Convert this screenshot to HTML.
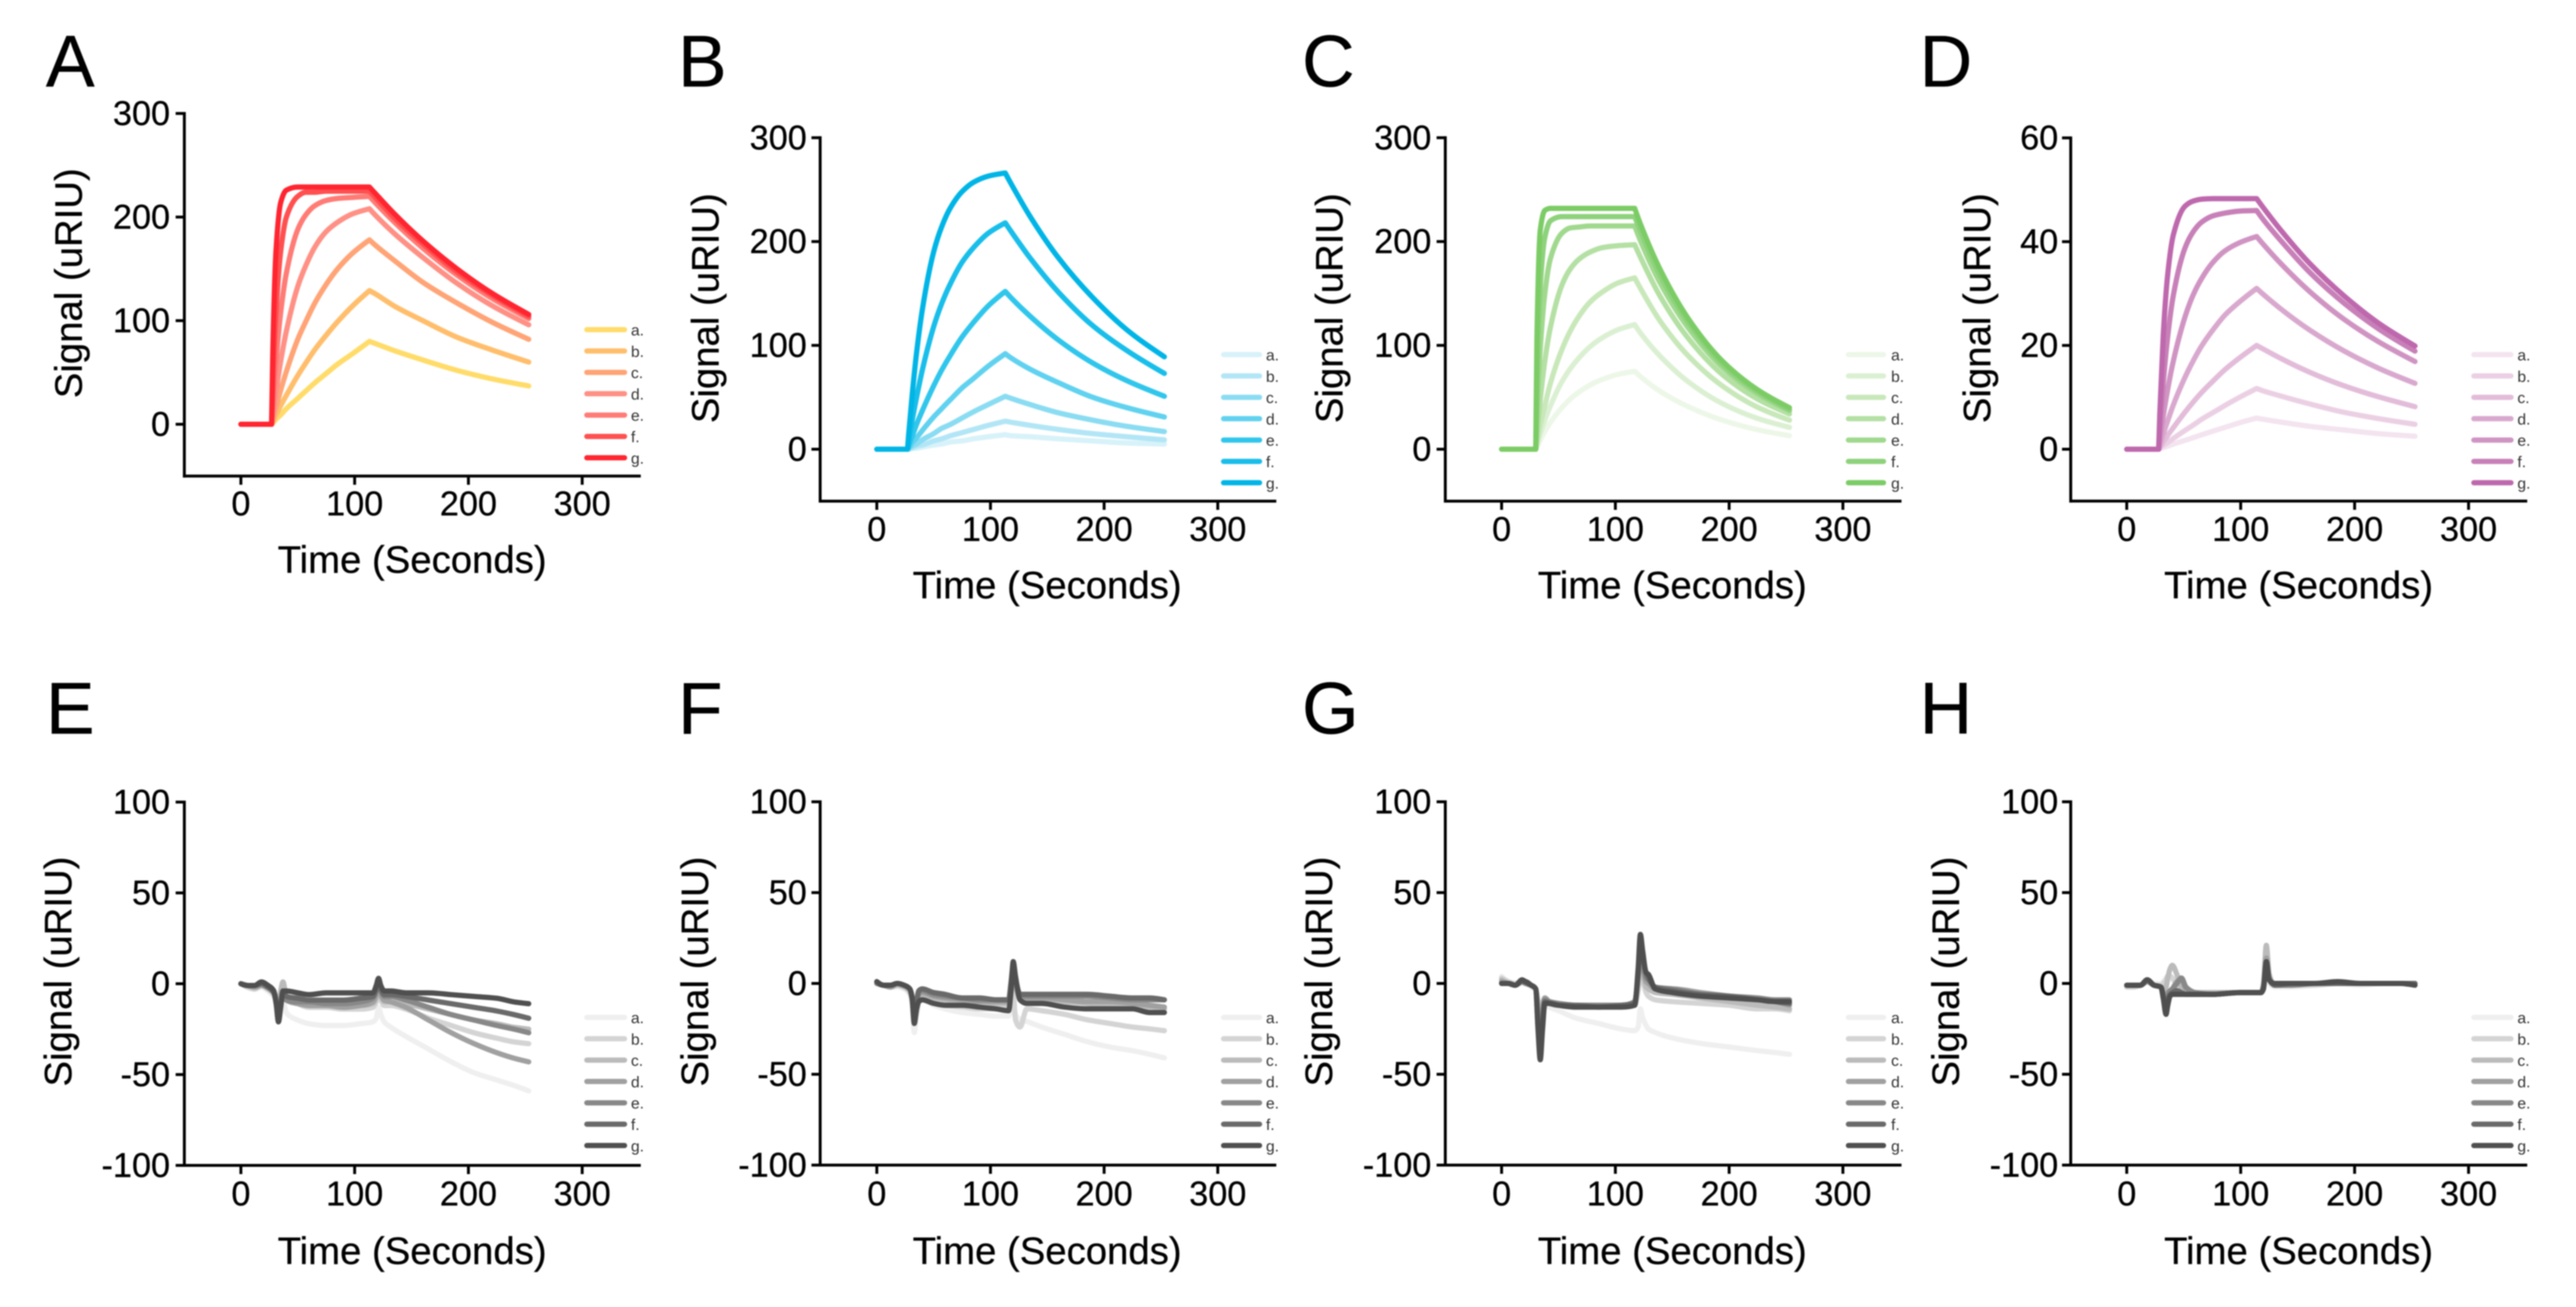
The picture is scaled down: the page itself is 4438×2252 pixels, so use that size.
<!DOCTYPE html>
<html lang="en">
<head>
<meta charset="utf-8">
<title>Signal vs time binding curves, panels A to H</title>
<style>
html,body{margin:0;padding:0;background:#fff;width:4438px;height:2252px;overflow:hidden}
svg{display:block;filter:blur(1.1px)}
text{font-family:"Liberation Sans",Arial,sans-serif;fill:#000;stroke:#000;stroke-width:0.5px}
</style>
</head>
<body>
<svg id="figure" xmlns="http://www.w3.org/2000/svg" width="4438" height="2252" viewBox="0 0 4438 2252"></svg>
<script>
// ---------- category / tick data ----------
const seriesLabels = ["a.","b.","c.","d.","e.","f.","g."];
const xTickValues = [0,100,200,300];
const yTicksSignal = [0,100,200,300];
const yTicksSmall = [0,20,40,60];
const yTicksControl = [-100,-50,0,50,100];

// ---------- panel A ----------
const timesA = [0,27,28,31,35,40,50,57,65,75,85,98,113,118,135,160,190,220,253];
const valuesAa = [0,0,1,5,9,15,25,32,40,49,58,68,80,78,71,62,52,44,37];
const valuesAb = [0,0,2,9,18,28,47,59,72,86,99,114,129,126,114,100,84,72,60];
const valuesAc = [0,0,4,17,33,51,82,99,117,135,150,165,178,173,158,137,117,99,82];
const valuesAd = [0,0,9,33,61,90,133,153,171,186,195,203,208,202,184,161,136,115,96];
const valuesAe = [0,0,18,63,108,146,188,202,211,216,218,219,220,214,195,170,144,122,102];
const valuesAf = [0,0,35,111,167,200,220,224,224,225,225,225,225,219,199,174,147,125,104];
const valuesAg = [0,0,66,170,214,226,229,229,229,229,229,229,229,223,203,177,150,127,106];

// ---------- panel B ----------
const timesB = [0,27,28,31,35,40,50,57,65,75,85,98,113,118,135,160,190,220,253];
const valuesBa = [0,0,0,1,1,2,4,5,7,8,10,12,14,13,12,10,8,6,5];
const valuesBb = [0,0,0,1,3,4,8,10,13,16,19,23,27,26,23,19,15,12,9];
const valuesBc = [0,0,1,3,5,9,15,20,24,30,36,43,51,49,43,35,28,22,17];
const valuesBd = [0,0,1,6,11,18,31,39,48,59,68,80,92,88,77,64,50,40,31];
const valuesBe = [0,0,3,12,24,37,61,76,91,108,122,138,152,146,128,105,83,66,51];
const valuesBf = [0,0,7,27,50,76,118,140,160,180,194,208,218,210,184,151,119,95,73];
const valuesBg = [0,0,14,51,93,134,190,214,233,248,257,263,266,256,224,184,146,115,89];

// ---------- panel C ----------
const timesC = [0,30,31,34,38,43,53,60,68,78,88,102,117,122,139,164,194,224,253];
const valuesCa = [0,0,2,9,17,26,40,48,55,62,67,72,75,70,56,41,28,19,13];
const valuesCb = [0,0,4,15,28,42,65,77,88,99,107,115,120,112,90,65,44,30,21];
const valuesCc = [0,0,6,23,42,64,96,113,128,142,151,160,165,155,124,90,61,41,28];
const valuesCd = [0,0,13,48,85,118,158,173,183,190,194,196,197,185,148,107,72,49,34];
const valuesCe = [0,0,30,97,150,184,208,213,214,215,215,215,215,201,161,117,79,54,37];
const valuesCf = [0,0,58,157,204,220,224,224,224,224,224,224,224,210,168,122,82,56,38];
const valuesCg = [0,0,105,211,230,232,232,232,232,232,232,232,232,217,174,126,85,58,40];

// ---------- panel D ----------
const timesD = [0,28,29,32,36,41,51,58,66,76,86,99,114,119,136,161,191,221,253];
const valuesDa = [0,0,0.1,0.3,0.6,1,1.7,2.2,2.8,3.5,4.2,5.1,6,5.8,5.2,4.4,3.7,3,2.5];
const valuesDb = [0,0,0.2,0.7,1.3,2.1,3.6,4.6,5.8,7.1,8.4,10,11.7,11.3,10.2,8.7,7.1,5.9,4.8];
const valuesDc = [0,0,0.3,1.4,2.7,4.2,7.1,9,11,13.2,15.3,17.6,20,19.4,17.4,14.8,12.2,10.1,8.2];
const valuesDd = [0,0,0.7,2.9,5.5,8.6,13.8,16.9,20,23.1,25.8,28.4,31,30,26.9,22.9,18.9,15.6,12.7];
const valuesDe = [0,0,1.6,6.3,11.6,17.1,25.4,29.6,33,36.1,38.2,39.8,41,39.7,35.6,30.3,25,20.7,16.9];
const valuesDf = [0,0,3.5,12.6,21.8,29.8,38.7,41.8,43.8,45,45.5,45.9,46,44.5,40,34,28.1,23.2,18.9];
const valuesDg = [0,0,6.7,21.8,33.8,41.4,46.8,47.8,48.2,48.3,48.3,48.3,48.3,46.8,42,35.7,29.5,24.3,19.9];

// ---------- panel E ----------
const timesE = [0,6,12,18,24,29,31,33,35,37,40,50,60,75,90,105,116,119,121,123,126,132,145,165,185,205,225,240,253];
const valuesEa = [0,-2,-3,-2,-4,-7,-8,-14,-12,-10,-16,-20,-22,-23,-23,-22,-21,-19,-13,-17,-21,-24,-29,-36,-43,-49,-53,-56,-59];
const valuesEb = [0,-2,-3,-1,-3,-6,-8,-12,-6,-2,-8,-11,-13,-13,-14,-14,-13,-10,-6,-9,-12,-12,-14,-19,-23,-27,-30,-32,-33];
const valuesEc = [0,-1,-2,-1,-3,-5,-7,-10,-4,1,-7,-10,-11,-12,-12,-12,-11,-8,-4,-7,-10,-10,-11,-14,-17,-20,-22,-24,-25];
const valuesEd = [0,-1,-2,-1,-2,-5,-8,-13,-8,-4,-9,-11,-12,-12,-13,-12,-10,-6,-2,-6,-9,-10,-13,-20,-27,-33,-38,-41,-43];
const valuesEe = [0,-1,-1,0,-2,-5,-9,-16,-10,-6,-9,-10,-10,-11,-11,-10,-8,-4,-1,-4,-7,-7,-9,-13,-17,-20,-23,-25,-27];
const valuesEf = [0,-1,-1,0,-2,-5,-11,-19,-12,-5,-7,-8,-9,-9,-9,-8,-7,-3,1,-3,-6,-6,-7,-9,-11,-13,-15,-17,-19];
const valuesEg = [0,-1,-1,1,-1,-4,-11,-21,-13,-4,-4,-5,-6,-5,-5,-5,-5,-1,3,-1,-4,-4,-5,-5,-6,-7,-8,-10,-11];

// ---------- panel F ----------
const timesF = [0,6,12,18,24,29,31,33,35,37,40,50,60,75,90,105,116,118,120,122,126,132,145,165,185,205,225,240,253];
const valuesFa = [0,-1,-2,-2,-3,-6,-12,-27,-18,-10,-9,-12,-14,-16,-17,-18,-18,-14,-12,-17,-20,-21,-24,-28,-32,-35,-37,-39,-41];
const valuesFb = [0,-1,-2,-1,-2,-5,-9,-20,-16,-10,-8,-10,-12,-13,-14,-14,-13,-8,-5,-20,-24,-14,-15,-17,-20,-22,-24,-25,-26];
const valuesFc = [0,-1,-2,-1,-2,-4,-8,-17,-12,-8,-7,-8,-9,-10,-10,-11,-11,-4,4,-2,-8,-9,-9,-10,-11,-12,-13,-13,-14];
const valuesFd = [0,-1,-2,0,-1,-3,-7,-17,-11,-6,-5,-7,-8,-9,-10,-10,-10,-3,6,0,-7,-8,-8,-9,-10,-10,-11,-12,-13];
const valuesFe = [0,-1,-1,0,-1,-3,-7,-18,-10,-5,-4,-6,-7,-8,-9,-9,-9,-2,8,2,-6,-7,-7,-7,-7,-8,-9,-9,-9];
const valuesFf = [1,-1,-1,0,-1,-3,-8,-20,-10,-4,-3,-5,-6,-8,-8,-9,-9,0,10,3,-6,-6,-6,-6,-6,-7,-8,-8,-9];
const valuesFg = [1,-1,-1,0,-1,-3,-8,-22,-14,-10,-9,-11,-12,-12,-13,-14,-15,-5,12,4,-9,-11,-11,-13,-14,-14,-14,-16,-16];

// ---------- panel G ----------
const timesG = [0,6,12,18,21,26,30,32,34,36,38,42,50,65,85,105,117,120,122,124,127,129,135,150,175,200,225,240,253];
const valuesGa = [4,1,0,0,0,-2,-4,-10,-20,-12,-10,-13,-15,-19,-22,-25,-26,-24,-14,-19,-23,-25,-27,-30,-33,-35,-37,-38,-39];
const valuesGb = [3,1,0,1,0,-1,-3,-10,-18,-10,-9,-11,-12,-13,-13,-13,-12,-4,6,2,-5,-7,-9,-10,-11,-12,-14,-14,-15];
const valuesGc = [2,0,-1,1,0,-1,-3,-12,-22,-12,-8,-10,-11,-12,-13,-12,-11,0,10,6,-2,-3,-5,-6,-8,-10,-12,-13,-14];
const valuesGd = [1,0,-1,1,0,-1,-3,-16,-30,-15,-8,-10,-11,-12,-12,-12,-10,3,16,10,1,0,-3,-3,-5,-7,-9,-10,-12];
const valuesGe = [0,0,-1,1,0,-1,-3,-20,-36,-18,-9,-10,-11,-12,-12,-12,-10,4,20,12,3,2,-2,-3,-6,-7,-8,-9,-9];
const valuesGf = [0,0,-1,1,1,-1,-3,-24,-40,-22,-10,-11,-12,-12,-13,-12,-11,6,24,15,6,3,-2,-4,-6,-7,-9,-10,-11];
const valuesGg = [0,0,-1,2,1,-1,-3,-25,-42,-25,-11,-11,-12,-13,-13,-13,-12,8,27,18,6,5,-3,-5,-7,-8,-9,-10,-10];

// ---------- panel H ----------
const timesH = [0,6,12,18,24,30,32,34.5,36,38,40,44,48,52,60,75,100,118,120,122.5,125,130,145,165,185,205,225,240,253];
const valuesHa = [-2,-2,-1,1,0,0,1,3,4,3,2,0,-3,-5,-5,-5,-5,-5,-2,4,0,-2,-2,-1,0,-1,0,0,0];
const valuesHb = [-2,-2,-1,1,-1,-1,0,2,4,4,3,0,-3,-5,-5,-5,-5,-5,-1,10,2,-1,-1,-1,0,0,0,0,0];
const valuesHc = [-1,-1,-1,1,-1,-2,-3,-2,3,8,10,5,-2,-5,-5,-5,-5,-5,0,21,5,-1,-1,0,0,0,0,0,0];
const valuesHd = [-1,-1,-1,1,-1,-2,-5,-9,-5,-4,-3,1,2,-3,-5,-6,-5,-5,-2,14,3,-1,-1,0,0,0,0,0,0];
const valuesHe = [-1,-1,-1,1,-1,-2,-6,-12,-7,-4,-3,0,3,-2,-5,-6,-5,-5,-2,12,3,-1,-1,0,0,0,0,0,0];
const valuesHf = [-1,-1,-1,2,-1,-2,-7,-16,-9,-6,-5,-4,-5,-6,-6,-6,-5,-5,-2,10,2,-1,0,0,0,0,0,0,0];
const valuesHg = [-1,-1,-1,2,-1,-2,-8,-17,-12,-7,-6,-6,-6,-6,-6,-6,-5,-5,-3,12,2,0,0,0,1,0,0,0,-1];

// ---------- palettes ----------
const warmColors = ["#FFDC6A","#FFBE6C","#FFA476","#FF9085","#FF7B76","#FF5050","#FF2530"];
const cyanColors = ["#D8F2FA","#B2E6F6","#8ADCF2","#60D2F0","#30C6EC","#18BEEA","#00B5E6"];
const greenColors = ["#EDF7E8","#DBF0D2","#C8E8BA","#B4E0A4","#A0D98E","#8ED27C","#7CCC66"];
const purpleColors = ["#F3E4EF","#EBD0E4","#E2BCD9","#D9A8CE","#D094C3","#C880B8","#BE68AD"];
const grayColors = ["#EFEFEF","#D4D4D4","#BBBBBB","#A0A0A0","#888888","#6A6A6A","#4F4F4F"];

// ---------- layout ----------
const columnLayouts = [
  {axisX:317.6, x0:415,    xScale:1.96,  yTickRight:293,  xLabelX:710,  letterX:79,   legendX1:1007,   legendX2:1080, legendTextX:1087},
  {axisX:1413,  x0:1510.6, xScale:1.958, yTickRight:1390, xLabelX:1804, letterX:1168, legendX1:2104,   legendX2:2174, legendTextX:2181},
  {axisX:2490,  x0:2587,   xScale:1.96,  yTickRight:2466, xLabelX:2881, letterX:2243, legendX1:3180.5, legendX2:3249, legendTextX:3258},
  {axisX:3567.5,x0:3664,   xScale:1.963, yTickRight:3546, xLabelX:3960, letterX:3307, legendX1:4258,   legendX2:4330, legendTextX:4337}
];

const panels = [
  {letter:"A",col:0,times:timesA,rows:[valuesAa,valuesAb,valuesAc,valuesAd,valuesAe,valuesAf,valuesAg],colors:warmColors,yTicks:yTicksSignal,yMin:-50,yZero:731,yScale:1.785,letterY:149,tickBase:888,xLabelY:987,yLabelX:141,yLabelY:488,legendY:568,corners:[1,12]},
  {letter:"B",col:1,times:timesB,rows:[valuesBa,valuesBb,valuesBc,valuesBd,valuesBe,valuesBf,valuesBg],colors:cyanColors,yTicks:yTicksSignal,yMin:-50,yZero:774,yScale:1.789,letterY:149,tickBase:932,xLabelY:1031,yLabelX:1238,yLabelY:531,legendY:611,corners:[1,12]},
  {letter:"C",col:2,times:timesC,rows:[valuesCa,valuesCb,valuesCc,valuesCd,valuesCe,valuesCf,valuesCg],colors:greenColors,yTicks:yTicksSignal,yMin:-50,yZero:774,yScale:1.789,letterY:149,tickBase:932,xLabelY:1031,yLabelX:2313,yLabelY:531,legendY:611,corners:[1,12]},
  {letter:"D",col:3,times:timesD,rows:[valuesDa,valuesDb,valuesDc,valuesDd,valuesDe,valuesDf,valuesDg],colors:purpleColors,yTicks:yTicksSmall,yMin:-10,yZero:774,yScale:8.94,letterY:149,tickBase:932,xLabelY:1031,yLabelX:3429,yLabelY:531,legendY:611,corners:[1,12]},
  {letter:"E",col:0,times:timesE,rows:[valuesEa,valuesEb,valuesEc,valuesEd,valuesEe,valuesEf,valuesEg],colors:grayColors,yTicks:yTicksControl,yMin:-100,yZero:1695,yScale:3.13,letterY:1264,tickBase:2077,xLabelY:2178,yLabelX:123,yLabelY:1674,legendY:1753,corners:[]},
  {letter:"F",col:1,times:timesF,rows:[valuesFa,valuesFb,valuesFc,valuesFd,valuesFe,valuesFf,valuesFg],colors:grayColors,yTicks:yTicksControl,yMin:-100,yZero:1694.5,yScale:3.13,letterY:1264,tickBase:2077,xLabelY:2178,yLabelX:1220,yLabelY:1674,legendY:1753,corners:[]},
  {letter:"G",col:2,times:timesG,rows:[valuesGa,valuesGb,valuesGc,valuesGd,valuesGe,valuesGf,valuesGg],colors:grayColors,yTicks:yTicksControl,yMin:-100,yZero:1694.5,yScale:3.13,letterY:1264,tickBase:2077,xLabelY:2178,yLabelX:2295,yLabelY:1674,legendY:1753,corners:[]},
  {letter:"H",col:3,times:timesH,rows:[valuesHa,valuesHb,valuesHc,valuesHd,valuesHe,valuesHf,valuesHg],colors:grayColors,yTicks:yTicksControl,yMin:-100,yZero:1694.5,yScale:3.13,letterY:1264,tickBase:2077,xLabelY:2178,yLabelX:3375,yLabelY:1674,legendY:1753,corners:[]}
];

const NS = "http://www.w3.org/2000/svg";
const root = document.getElementById("figure");

function make(tag, attrs, parent){
  const el = document.createElementNS(NS, tag);
  for (const k in attrs) el.setAttribute(k, attrs[k]);
  parent.appendChild(el);
  return el;
}

// Monotone cubic through knots; one-sided tangents at the piece ends keep kinetic corners sharp.
function piecePath(xs, ys){
  const n = xs.length;
  if (n < 3) return "L" + xs[n-1].toFixed(1) + " " + ys[n-1].toFixed(1);
  const d = [], m = new Array(n);
  for (let i = 0; i < n-1; i++) d.push((ys[i+1]-ys[i])/(xs[i+1]-xs[i]));
  for (let i = 1; i < n-1; i++) {
    if (d[i-1]*d[i] <= 0) m[i] = 0;
    else {
      const a = xs[i]-xs[i-1], b = xs[i+1]-xs[i];
      m[i] = 3*(a+b)/((2*b+a)/d[i-1] + (2*a+b)/d[i]);
    }
  }
  m[0] = (3*d[0]-m[1])/2;
  if (m[0]*d[0] < 0) m[0] = 0;
  m[n-1] = (3*d[n-2]-m[n-2])/2;
  if (m[n-1]*d[n-2] < 0) m[n-1] = 0;
  let s = "";
  for (let i = 0; i < n-1; i++) {
    const h = (xs[i+1]-xs[i])/3;
    s += "C" + (xs[i]+h).toFixed(1) + " " + (ys[i]+m[i]*h).toFixed(1) + " " +
         (xs[i+1]-h).toFixed(1) + " " + (ys[i+1]-m[i+1]*h).toFixed(1) + " " +
         xs[i+1].toFixed(1) + " " + ys[i+1].toFixed(1);
  }
  return s;
}

function curvePath(times, values, corners, xFn, yFn){
  const xs = times.map(xFn), ys = values.map(yFn);
  const cuts = [0].concat(corners, [xs.length-1]);
  let path = "M" + xs[0].toFixed(1) + " " + ys[0].toFixed(1);
  for (let i = 0; i < cuts.length-1; i++) {
    path += piecePath(xs.slice(cuts[i], cuts[i+1]+1), ys.slice(cuts[i], cuts[i+1]+1));
  }
  return path;
}

panels.forEach(function(p){
  const c = columnLayouts[p.col];
  const key = p.letter.toLowerCase();
  const xOf = function(t){ return c.x0 + c.xScale*t; };
  const yOf = function(v){ return p.yZero - p.yScale*v; };

  const group = make("g", {}, root);
  
  

  const letter = make("text", {x:c.letterX, y:p.letterY, "font-size":126}, group);
  letter.textContent = p.letter;
  
  

  const yTop = yOf(p.yTicks[p.yTicks.length-1]);
  const yBottom = yOf(p.yMin);

  const yAxis = make("line", {x1:c.axisX, x2:c.axisX, y1:yTop-2.5, y2:yBottom+2.5, stroke:"#000", "stroke-width":5}, group);
  
  

  const xAxis = make("line", {x1:c.axisX-2.5, x2:xOf(351.5), y1:yBottom, y2:yBottom, stroke:"#000", "stroke-width":5}, group);
  
  

  p.yTicks.forEach(function(v){
    const mark = make("line", {x1:c.axisX-15, x2:c.axisX, y1:yOf(v), y2:yOf(v), stroke:"#000", "stroke-width":5}, group);
    
    
    const label = make("text", {x:c.yTickRight, y:yOf(v)+20, "font-size":59, "text-anchor":"end"}, group);
    label.textContent = String(v);
    
    
  });

  xTickValues.forEach(function(v){
    const mark = make("line", {x1:xOf(v), x2:xOf(v), y1:yBottom, y2:yBottom+15, stroke:"#000", "stroke-width":5}, group);
    
    
    const label = make("text", {x:xOf(v), y:p.tickBase, "font-size":59, "text-anchor":"middle"}, group);
    label.textContent = String(v);
    
    
  });

  const xTitle = make("text", {x:c.xLabelX, y:p.xLabelY, "font-size":66, "text-anchor":"middle"}, group);
  xTitle.textContent = "Time (Seconds)";
  
  

  const yTitle = make("text", {x:0, y:0, "font-size":66, "text-anchor":"middle", transform:"translate(" + p.yLabelX + " " + p.yLabelY + ") rotate(-90)"}, group);
  yTitle.textContent = "Signal (uRIU)";
  
  

  p.rows.forEach(function(values, i){
    const curve = make("path", {d:curvePath(p.times, values, p.corners, xOf, yOf), fill:"none", stroke:p.colors[i], "stroke-width":9, "stroke-linejoin":"round", "stroke-linecap":"round"}, group);
    
    
  });

  seriesLabels.forEach(function(lab, i){
    const y = p.legendY + i*36.8;
    const swatch = make("line", {x1:c.legendX1+4, x2:c.legendX2-4, y1:y, y2:y, stroke:p.colors[i], "stroke-width":9, "stroke-linecap":"round"}, group);
    
    
    const text = make("text", {x:c.legendTextX, y:y+10, "font-size":27, style:"fill:#333;stroke:none"}, group);
    text.textContent = lab;
    
    
  });
});
</script>
</body>
</html>
